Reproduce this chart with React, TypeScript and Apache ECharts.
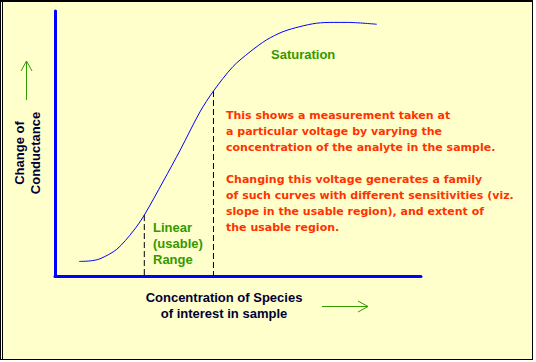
import React, { useEffect, useRef } from "react";
import * as echarts from "echarts";

// Sigmoid response curve (arbitrary units, 0-100 on both axes)
const concentration = [6.6, 9.6, 12.3, 16.9, 21.4, 24.4, 29.6, 34.2, 39.6, 43.3, 48.6, 53.3, 57.8, 62.3, 66.9, 71.5, 76.0, 79.8, 87.9];
const conductance = [5.5, 5.7, 6.5, 10.1, 17.0, 23.0, 35.8, 47.5, 61.9, 69.8, 79.0, 84.6, 89.1, 92.2, 94.1, 95.4, 95.7, 95.7, 95.0];

// Limits of the linear (usable) range
const rangeLimitsX = [24.4, 43.3];
const rangeLimitsY = [23.0, 69.8];

const yAxisTitle = "Change of\nConductance";
const xAxisTitle = "Concentration of Species\nof interest in sample";
const saturationLabel = "Saturation";
const linearLabel = "Linear\n(usable)\nRange";
const noteText =
  "This shows a measurement taken at\na particular voltage by varying the\nconcentration of the analyte in the sample.\n\nChanging this voltage generates a family\nof such curves with different sensitivities (viz.\nslope in the usable region), and extent of\nthe usable region.";

const FONT = '"Liberation Sans", Arial, sans-serif';
const WIDE = '"DejaVu Sans", Verdana, sans-serif';
const BG = "#FFFFCC";
const BLUE = "#0000FF";
const GREEN = "#339900";
const RED = "#FF3300";
const NAVY = "#000033";

export default function App() {
  const ref = useRef<HTMLDivElement>(null);
  useEffect(() => {
    if (!ref.current) return;
    const chart = echarts.init(ref.current, undefined, { renderer: "svg" });
    const curve = concentration.map((x, i) => [x, conductance[i]]);
    const dashSeries = rangeLimitsX.map((x, i) => ({
      type: "line",
      data: [
        [x, rangeLimitsY[i]],
        [x, 0],
      ],
      symbol: "none",
      silent: true,
      z: 1,
      lineStyle: { color: "#000000", width: 1, type: [6, 3] },
    }));
    chart.setOption({
      animation: false,
      backgroundColor: "#FFFFFF",
      grid: { left: 55, top: 11, width: 366, height: 265 },
      xAxis: {
        type: "value",
        min: 0,
        max: 100,
        axisLine: { show: true, lineStyle: { color: BLUE, width: 3 } },
        axisTick: { show: false },
        axisLabel: { show: false },
        splitLine: { show: false },
      },
      yAxis: {
        type: "value",
        min: 0,
        max: 100,
        axisLine: { show: true, lineStyle: { color: BLUE, width: 3 } },
        axisTick: { show: false },
        axisLabel: { show: false },
        splitLine: { show: false },
      },
      graphic: [
        { type: "rect", z: -10, shape: { x: 0, y: 0, width: 533, height: 360 }, style: { fill: BG } },
        { type: "rect", z: -9, shape: { x: 0, y: 0, width: 533, height: 2 }, style: { fill: "#000" } },
        { type: "rect", z: -9, shape: { x: 0, y: 0, width: 1, height: 360 }, style: { fill: "#000" } },
        { type: "rect", z: -9, shape: { x: 2, y: 2, width: 1, height: 357 }, style: { fill: "#000" } },
        { type: "rect", z: -9, shape: { x: 532, y: 0, width: 1, height: 360 }, style: { fill: "#000" } },
        { type: "rect", z: -9, shape: { x: 0, y: 359, width: 533, height: 1 }, style: { fill: "#000" } },
        {
          type: "text",
          x: 27,
          y: 153,
          rotation: Math.PI / 2,
          style: {
            text: yAxisTitle,
            font: `bold 13px ${FONT}`,
            fill: NAVY,
            align: "center",
            verticalAlign: "middle",
            lineHeight: 16,
          },
        },
        {
          type: "text",
          x: 224,
          y: 289,
          style: {
            text: xAxisTitle,
            font: `bold 13px ${FONT}`,
            fill: NAVY,
            align: "center",
            verticalAlign: "top",
            lineHeight: 16,
          },
        },
        {
          type: "text",
          x: 271,
          y: 54,
          style: { text: saturationLabel, font: `bold 13px ${FONT}`, fill: GREEN, align: "left", verticalAlign: "middle" },
        },
        {
          type: "text",
          x: 153,
          y: 219,
          style: { text: linearLabel, font: `bold 13px ${FONT}`, fill: GREEN, align: "left", verticalAlign: "top", lineHeight: 16 },
        },
        {
          type: "text",
          x: 226,
          y: 107,
          style: { text: noteText, font: `bold 11px ${WIDE}`, fill: RED, align: "left", verticalAlign: "top", lineHeight: 16 },
        },
        { type: "line", shape: { x1: 26.5, y1: 100, x2: 26.5, y2: 61 }, style: { stroke: GREEN, lineWidth: 1 } },
        { type: "polyline", shape: { points: [[21, 71], [26.5, 61], [32, 71]] }, style: { stroke: GREEN, lineWidth: 1, fill: null } },
        { type: "line", shape: { x1: 322, y1: 306.5, x2: 368, y2: 306.5 }, style: { stroke: GREEN, lineWidth: 1 } },
        { type: "polyline", shape: { points: [[358, 301], [368, 306.5], [358, 312]] }, style: { stroke: GREEN, lineWidth: 1, fill: null } },
      ],
      series: [
        {
          type: "line",
          data: curve,
          smooth: 0.3,
          symbol: "none",
          z: 3,
          lineStyle: { color: BLUE, width: 1 },
        },
        ...dashSeries,
      ],
    });
    return () => chart.dispose();
  }, []);
  return <div ref={ref} style={{ position: "absolute", left: 0, top: 0, width: 536, height: 362 }} />;
}
